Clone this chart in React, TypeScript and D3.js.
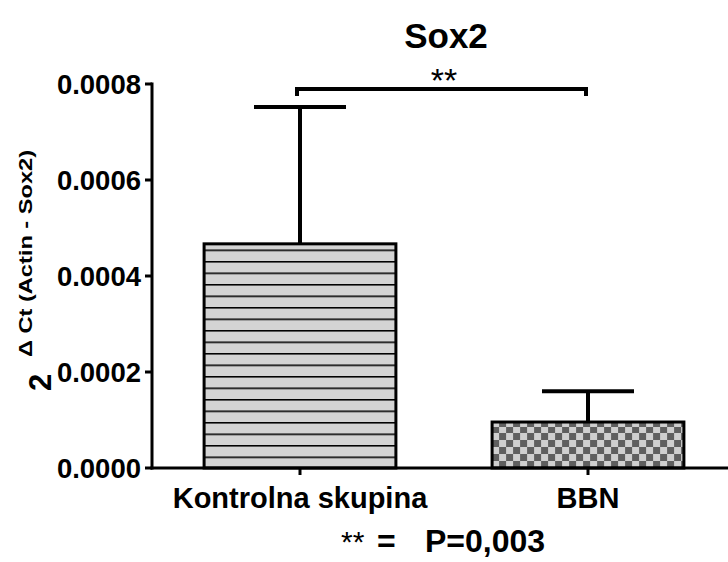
import * as d3 from "d3";

const groups = ["Kontrolna skupina", "BBN"];
const means = [0.000467, 0.0000958];
const errTops = [0.000752, 0.00016];
const yTicks = [0, 0.0002, 0.0004, 0.0006, 0.0008];
const patterns = ["hstripe", "checker"];

export default function App() {
  const width = 728;
  const height = 562;
  const margin = { top: 84, right: 0, bottom: 94, left: 152 };

  const y = d3.scaleLinear().domain([0, 0.0008]).range([height - margin.bottom, margin.top]);
  const x = d3.scaleBand().domain(groups).range([156, 732]).paddingInner(0.334).paddingOuter(0.167);
  const y0 = y(0);
  const font = "Arial, 'Liberation Sans', sans-serif";

  const bracketY = 89;
  const x1 = x(groups[0])! + x.bandwidth() / 2;
  const x2 = x(groups[1])! + x.bandwidth() / 2;

  return (
    <svg width={width} height={height} style={{ position: "absolute", left: 0, top: 0, background: "#fff" }} fontFamily={font}>
      <defs>
        <pattern id="hstripe" width="12" height="11.5" patternUnits="userSpaceOnUse" y={y0}>
          <rect width="12" height="11.5" fill="#d4d4d4" />
          <line x1="0" x2="12" y1="0.75" y2="0.75" stroke="#000" strokeWidth="1.6" />
        </pattern>
        <pattern id="checker" width="14" height="14" patternUnits="userSpaceOnUse" x={x(groups[1])} y={y0}>
          <rect width="14" height="14" fill="#cfcfcf" />
          <rect width="7" height="7" fill="#5f5f5f" />
          <rect x="7" y="7" width="7" height="7" fill="#5f5f5f" />
        </pattern>
      </defs>

      <text x={446} y={48} textAnchor="middle" fontSize={35} fontWeight="bold">Sox2</text>

      {groups.map((g, i) => {
        const bx = x(g)!;
        const cx = bx + x.bandwidth() / 2;
        return (
          <g key={g}>
            <line x1={cx} x2={cx} y1={y(means[i])} y2={y(errTops[i])} stroke="#000" strokeWidth={4} />
            <line x1={cx - 46} x2={cx + 46} y1={y(errTops[i])} y2={y(errTops[i])} stroke="#000" strokeWidth={4} />
            <rect x={bx} y={y(means[i])} width={x.bandwidth()} height={y0 - y(means[i])}
              fill={`url(#${patterns[i]})`} stroke="#000" strokeWidth={3} />
          </g>
        );
      })}

      {/* y axis */}
      <line x1={margin.left} x2={margin.left} y1={y(0.0008) - 1.5} y2={y0 + 1.5} stroke="#000" strokeWidth={3} />
      {yTicks.map((t) => (
        <g key={t}>
          <line x1={margin.left - 7} x2={margin.left} y1={y(t)} y2={y(t)} stroke="#000" strokeWidth={3} />
          <text x={margin.left - 11} y={y(t)} dy="0.36em" textAnchor="end" fontSize={27.5} fontWeight="bold">
            {d3.format(".4f")(t)}
          </text>
        </g>
      ))}

      {/* x axis */}
      <line x1={margin.left - 1.5} x2={width} y1={y0} y2={y0} stroke="#000" strokeWidth={3} />
      {groups.map((g) => {
        const cx = x(g)! + x.bandwidth() / 2;
        return (
          <g key={g}>
            <line x1={cx} x2={cx} y1={y0} y2={y0 + 7} stroke="#000" strokeWidth={3} />
            <text x={cx} y={y0 + 40} textAnchor="middle" fontSize={29} fontWeight="bold">{g}</text>
          </g>
        );
      })}

      {/* axis title */}
      <g transform="translate(51,391) rotate(-90)">
        <text x={0} y={0} fontSize={31} fontWeight="bold">2</text>
        <text x={34} y={-19} fontSize={19} fontWeight="600" textLength={207} lengthAdjust="spacingAndGlyphs">
          Δ Ct (Actin - Sox2)
        </text>
      </g>

      {/* significance bracket */}
      <path d={`M${x1 - 3},${bracketY + 7} V${bracketY} H${x2 - 2} V${bracketY + 7}`} fill="none" stroke="#000" strokeWidth={4} />
      <text x={(x1 + x2) / 2} y={bracketY + 3} textAnchor="middle" fontSize={34}>**</text>

      <text y={552} fontWeight="bold">
        <tspan x={341} fontSize={30} fontWeight="normal" dy={0}>**</tspan>
        <tspan x={377} fontSize={32}>=</tspan>
        <tspan x={425} fontSize={32}>P=0,003</tspan>
      </text>
    </svg>
  );
}
